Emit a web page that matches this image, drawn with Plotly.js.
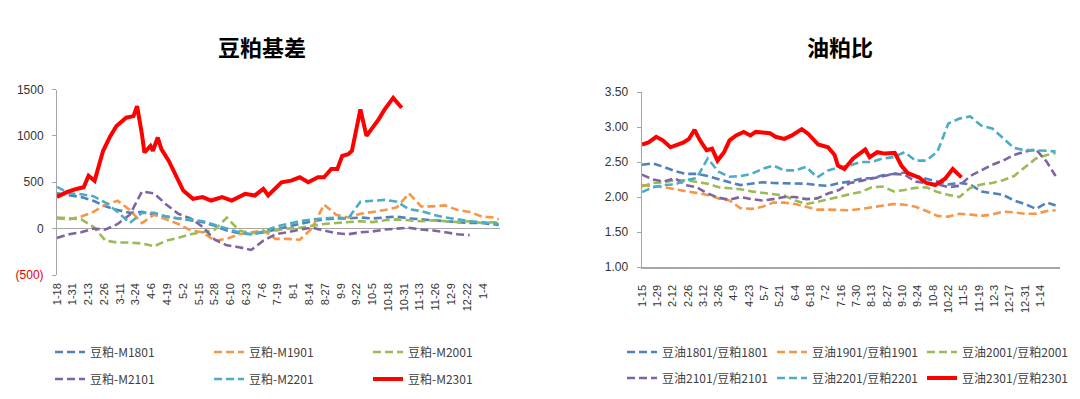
<!DOCTYPE html>
<html><head><meta charset="utf-8">
<script src="https://cdn.plot.ly/plotly-3.0.1.min.js"></script>
<style>html,body{margin:0;padding:0;background:#fff}#chart{width:1080px;height:399px}</style>
</head><body><div id="chart"></div>
<script>
// ---------- Left chart: 豆粕基差 ----------
const leftTitle = '豆粕基差';
const leftTickText = ['1-18','1-31','2-13','2-26','3-11','3-24','4-6','4-19','5-2','5-15','5-28','6-10','6-23','7-6','7-19','8-1','8-14','8-27','9-9','9-22','10-5','10-18','10-31','11-13','11-26','12-9','12-22','1-4'];
const leftTickStep = 13;
const leftYTickVals = [-500, 0, 500, 1000, 1500];
const leftYTickText = ['<span style="color:#e00000">(500)</span>', '0', '500', '1000', '1500'];
const leftNames = ['豆粕-M1801','豆粕-M1901','豆粕-M2001','豆粕-M2101','豆粕-M2201','豆粕-M2301'];
const leftDays = [0,10,20,30,40,50,60,70,80,90,100,110,120,130,140,150,160,170,180,190,200,210,220,230,240,250,260,270,280,290,300,310,320,330,340,350,360,364];
const m1801 = [380,360,340,300,240,200,170,180,150,130,110,90,70,30,-20,-50,-60,-40,-10,20,50,80,100,110,110,120,110,120,130,110,100,90,80,70,60,60,50,40];
const m1901 = [110,100,130,180,260,300,200,60,150,100,50,-20,-40,-130,-110,-60,-40,-20,-110,-110,-120,0,260,150,120,160,180,200,230,380,240,240,250,200,180,130,120,100];
const m2001 = [120,110,100,20,-130,-150,-150,-160,-190,-130,-100,-60,-40,-10,120,-20,-50,-40,-20,0,10,30,50,60,70,80,70,90,100,90,80,90,80,70,80,60,70,60];
const m2101 = [-100,-60,-40,0,-10,50,150,400,380,260,160,110,20,-120,-180,-200,-230,-130,-60,-40,-10,10,-20,-50,-60,-40,-30,-10,0,10,-10,-20,-40,-60,-70,null,null,null];
const m2201 = [450,380,370,350,280,180,60,170,170,130,110,100,80,40,0,-40,-60,-30,20,50,80,100,110,120,110,290,300,310,290,210,190,150,120,100,80,70,60,50];
const m2301Days = [0,8,16,22,26,31,38,44,49,57,63,66,70,72,77,79,83,86,92,99,104,112,120,127,136,144,155,163,170,174,185,193,200,207,215,220,226,231,235,240,243,250,255,265,270,277,281,284];
const m2301 = [340,393,428,446,571,517,839,1000,1106,1196,1213,1321,1017,821,892,839,982,857,732,535,410,321,340,303,340,303,375,357,428,357,500,517,553,500,553,553,643,643,785,803,839,1285,1000,1178,1285,1410,1357,1303];

// ---------- Right chart: 油粕比 ----------
const rightTitle = '油粕比';
const rightTickText = ['1-15','1-29','2-12','2-26','3-12','3-26','4-9','4-23','5-7','5-21','6-4','6-18','7-2','7-16','7-30','8-13','8-27','9-10','9-24','10-8','10-22','11-5','11-19','12-3','12-17','12-31','1-14'];
const rightTickStep = 14;
const rightYTickVals = [1.0, 1.5, 2.0, 2.5, 3.0, 3.5];
const rightYTickText = ['1.00','1.50','2.00','2.50','3.00','3.50'];
const rightNames = ['豆油1801/豆粕1801','豆油1901/豆粕1901','豆油2001/豆粕2001','豆油2101/豆粕2101','豆油2201/豆粕2201','豆油2301/豆粕2301'];
const rightDays = [0,10,20,30,40,50,60,70,80,90,100,110,120,130,140,150,160,170,180,190,200,210,220,230,240,250,260,270,280,290,300,310,320,330,340,350,360,370,378];
const r1801 = [2.46,2.48,2.43,2.37,2.33,2.33,2.3,2.25,2.21,2.17,2.19,2.21,2.2,2.2,2.2,2.19,2.17,2.16,2.2,2.22,2.26,2.27,2.31,2.33,2.35,2.3,2.26,2.22,2.18,2.2,2.18,2.08,2.05,2.03,1.95,1.9,1.83,1.92,1.88];
const r1901 = [2.17,2.16,2.14,2.11,2.08,2.05,2.03,1.98,1.95,1.84,1.83,1.86,1.92,1.92,1.9,1.86,1.82,1.82,1.82,1.81,1.83,1.85,1.87,1.9,1.89,1.86,1.8,1.73,1.72,1.76,1.75,1.73,1.75,1.79,1.78,1.76,1.76,1.8,1.81];
const r2001 = [2.15,2.2,2.21,2.24,2.24,2.22,2.19,2.14,2.13,2.11,2.08,2.06,2.05,2.02,1.95,1.9,1.93,1.97,2.0,2.04,2.07,2.14,2.15,2.08,2.1,2.13,2.14,2.07,2.03,2.0,2.13,2.18,2.2,2.24,2.3,2.42,2.55,2.6,2.63];
const r2101 = [2.32,2.25,2.22,2.27,2.17,2.14,2.05,1.99,1.96,2.0,1.97,1.95,1.97,2.0,2.0,1.97,1.98,2.05,2.1,2.2,2.23,2.26,2.3,2.33,2.32,2.22,2.2,2.18,2.14,2.16,2.3,2.38,2.46,2.52,2.6,2.65,2.68,2.5,2.3];
const r2201 = [2.07,2.14,2.17,2.18,2.24,2.27,2.55,2.36,2.29,2.3,2.33,2.4,2.45,2.38,2.38,2.43,2.28,2.38,2.42,2.45,2.5,2.5,2.55,2.57,2.64,2.52,2.52,2.65,3.05,3.12,3.15,3.02,2.98,2.84,2.7,2.67,2.67,2.66,2.65];
const r2301Days = [0,6,13,19,26,32,38,43,48,53,59,64,69,75,80,86,93,99,104,110,117,122,130,137,146,152,161,170,176,179,185,193,204,208,215,222,231,237,243,253,260,268,277,284,292];
const r2301 = [2.75,2.78,2.86,2.81,2.71,2.74,2.78,2.83,2.96,2.81,2.67,2.69,2.52,2.64,2.81,2.88,2.93,2.88,2.93,2.92,2.91,2.86,2.83,2.88,2.97,2.9,2.75,2.71,2.6,2.45,2.4,2.55,2.68,2.57,2.64,2.62,2.63,2.45,2.34,2.28,2.2,2.17,2.26,2.4,2.28];

// ---------- styles ----------
const colors = ['#4F81BD','#F79646','#9BBB59','#8064A2','#4BACC6','#FF0000'];
const DASH = '8px,4px';
const FONT = '"Liberation Sans", Arial, sans-serif';
const CJK = '"Noto Sans CJK SC", "Noto Sans", sans-serif';

function dashed(name, x, y, ci, xa, ya, leg) {
  return {type:'scatter', mode:'lines', name:name, x:x, y:y, xaxis:xa, yaxis:ya, legend:leg,
    line:{color:colors[ci], width:2.6, dash:DASH}, connectgaps:false, hoverinfo:'skip'};
}
function solid(name, x, y, xa, ya, leg) {
  return {type:'scatter', mode:'lines', name:name, x:x, y:y, xaxis:xa, yaxis:ya, legend:leg,
    line:{color:colors[5], width:4}, hoverinfo:'skip'};
}

const leftSeries = [m1801, m1901, m2001, m2101, m2201];
const rightSeries = [r1801, r1901, r2001, r2101, r2201];
const data = [];
leftSeries.forEach((s, i) => data.push(dashed(leftNames[i], leftDays, s, i, 'x', 'y', i < 3 ? 'legend' : 'legend2')));
data.push(solid(leftNames[5], m2301Days, m2301, 'x', 'y', 'legend2'));
rightSeries.forEach((s, i) => data.push(dashed(rightNames[i], rightDays, s, i, 'x2', 'y2', i < 3 ? 'legend3' : 'legend4')));
data.push(solid(rightNames[5], r2301Days, r2301, 'x2', 'y2', 'legend4'));

const W = 1080, H = 399;
const px = v => v / W;
const py = v => 1 - v / H;

const tickFont = {family: FONT, size: 12, color: '#333333'};
const xTickFont = {family: FONT, size: 11, color: '#333333'};

function legendCfg(xPx, yPx, ew) {
  return {orientation:'h', x:px(xPx), xanchor:'left', y:py(yPx), yanchor:'middle',
    entrywidth:ew, entrywidthmode:'pixels', bgcolor:'rgba(0,0,0,0)', borderwidth:0,
    font:{family:CJK, size:12, color:'#404040'}, itemclick:false, itemdoubleclick:false,
    traceorder:'normal'};
}

const layout = {
  width: W, height: H,
  margin: {l:0, r:0, t:0, b:0},
  paper_bgcolor: '#ffffff', plot_bgcolor: '#ffffff',
  showlegend: true,
  xaxis: {domain:[px(57), px(500)], range:[0, 365], anchor:'y',
    tickvals: leftTickText.map((_, i) => i * leftTickStep), ticktext: leftTickText,
    tickangle: -90, tickfont: xTickFont, showgrid:false, zeroline:false, showline:false,
    ticks:'', ticklabelstandoff: 5, fixedrange:true},
  yaxis: {domain:[py(275), py(89.5)], range:[-500, 1500], anchor:'x',
    tickvals: leftYTickVals, ticktext: leftYTickText, tickfont: tickFont,
    showgrid:false, zeroline:true, zerolinecolor:'#a6a6a6', zerolinewidth:1.5,
    showline:true, linecolor:'#a6a6a6', linewidth:1, ticks:'outside', ticklen:4, tickcolor:'#a6a6a6',
    ticklabelstandoff: 6, fixedrange:true},
  xaxis2: {domain:[px(642), px(1060)], range:[0, 382], anchor:'y2',
    tickvals: rightTickText.map((_, i) => i * rightTickStep), ticktext: rightTickText,
    tickangle: -90, tickfont: xTickFont, showgrid:false, zeroline:false,
    showline:true, linecolor:'#a6a6a6', linewidth:1.5, ticks:'', ticklabelstandoff: 12, fixedrange:true},
  yaxis2: {domain:[py(267), py(92)], range:[1, 3.5], anchor:'x2',
    tickvals: rightYTickVals, ticktext: rightYTickText, tickfont: tickFont,
    showgrid:false, zeroline:false, showline:true, linecolor:'#a6a6a6', linewidth:1.5,
    ticks:'outside', ticklen:4, tickcolor:'#a6a6a6', ticklabelstandoff: 6, fixedrange:true},
  legend: legendCfg(50, 352, 114),
  legend2: legendCfg(50, 379, 114),
  legend3: legendCfg(622, 352, 105),
  legend4: legendCfg(622, 378, 105),
  annotations: [
    {text:'<b>' + leftTitle + '</b>', xref:'paper', yref:'paper', x:px(262), y:py(46),
      xanchor:'center', yanchor:'middle', showarrow:false, font:{family:CJK, size:22, color:'#000000'}},
    {text:'<b>' + rightTitle + '</b>', xref:'paper', yref:'paper', x:px(840), y:py(46),
      xanchor:'center', yanchor:'middle', showarrow:false, font:{family:CJK, size:22, color:'#000000'}}
  ]
};

Plotly.newPlot('chart', data, layout, {displayModeBar:false, staticPlot:true});
</script></body></html>
